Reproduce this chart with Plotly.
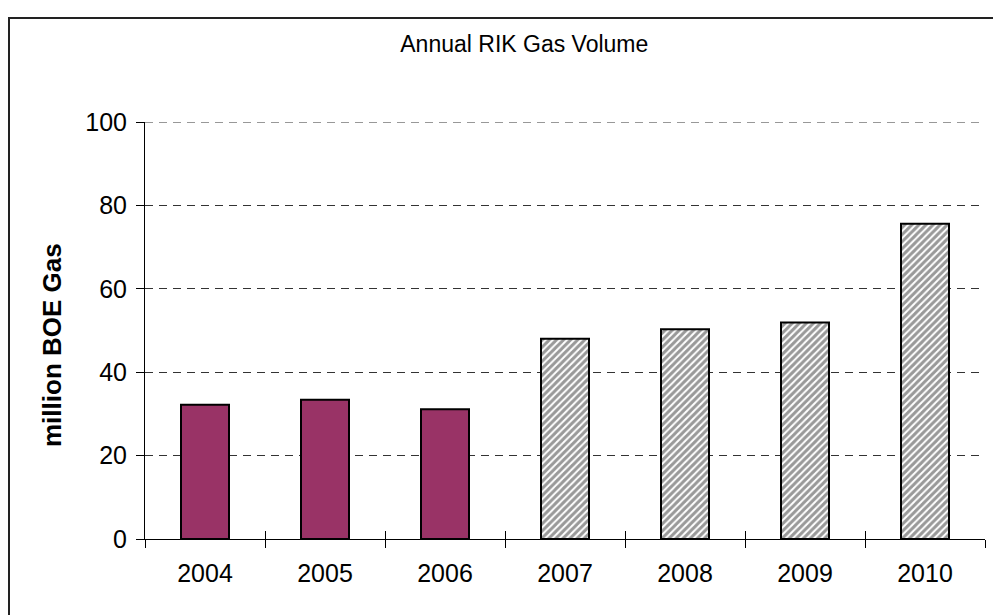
import plotly.graph_objects as go

# Annual royalty-in-kind gas volumes (million BOE)
actual_years = ["2004", "2005", "2006"]
actual_volumes = [32.2, 33.4, 31.1]
projected_years = ["2007", "2008", "2009", "2010"]
projected_volumes = [48.0, 50.3, 51.9, 75.6]
all_years = actual_years + projected_years
y_ticks = [0, 20, 40, 60, 80, 100]

FONT = "Liberation Sans, Arial, sans-serif"
GRID = dict(color="#333333", width=1, dash="8px,6px")

fig = go.Figure()

fig.add_trace(go.Bar(
    x=actual_years, y=actual_volumes, name="Actual",
    marker=dict(color="#993366", line=dict(color="black", width=2)),
))
fig.add_trace(go.Bar(
    x=projected_years, y=projected_volumes, name="Projected",
    marker=dict(
        color="white",
        line=dict(color="black", width=2),
        pattern=dict(shape="/", fgcolor="#333333", bgcolor="white",
                     size=5, solidity=0.6),
    ),
))

# linear twin of the category axis, used for the upward half of the cross ticks
n = len(all_years)
boundaries = [i - 0.5 for i in range(n + 1)]

fig.update_layout(
    width=993, height=615,
    margin=dict(l=145, r=8, t=122, b=76),
    paper_bgcolor="white", plot_bgcolor="white",
    barmode="overlay", bargap=0.6,
    showlegend=False,
    font=dict(family=FONT, color="black"),
    title=dict(text="Annual RIK Gas Volume", font=dict(size=23, color="black"),
               x=0.528, xref="container", xanchor="center",
               y=1 - 44 / 615, yref="container", yanchor="middle"),
    xaxis=dict(
        type="category", categoryorder="array", categoryarray=all_years,
        range=[-0.5, n - 0.5],
        showline=True, linecolor="black", linewidth=1,
        ticks="outside", ticklen=8, tickcolor="black", tickwidth=1,
        tickson="boundaries", showgrid=False,
        tickfont=dict(size=25), ticklabelstandoff=12,
    ),
    xaxis2=dict(
        overlaying="x", range=[-0.5, n - 0.5], anchor="y",
        tickvals=boundaries, ticks="inside", ticklen=8,
        tickcolor="black", tickwidth=1,
        showticklabels=False, showgrid=False, showline=False,
        zeroline=False, side="bottom",
    ),
    yaxis=dict(
        range=[y_ticks[0], y_ticks[-1]], tickvals=y_ticks,
        showline=True, linecolor="black", linewidth=1,
        ticks="outside", ticklen=8, tickcolor="black", tickwidth=1,
        showgrid=True, gridcolor=GRID["color"], gridwidth=GRID["width"],
        griddash=GRID["dash"],
        zeroline=False,
        tickfont=dict(size=25), ticklabelstandoff=4,
    ),
)

# empty trace so the twin axis is drawn
fig.add_trace(go.Scatter(x=[None], y=[None], xaxis="x2", showlegend=False,
                         hoverinfo="skip"))

# gridline on the top edge of the value axis
fig.add_shape(type="line", xref="paper", yref="y", x0=0, x1=1,
              y0=y_ticks[-1], y1=y_ticks[-1], line=GRID, layer="below")

# value-axis title
fig.add_annotation(text="<b>million BOE Gas</b>", textangle=-90,
                   xref="paper", yref="paper",
                   x=(52 - 145) / 840, y=(539 - 345) / 417,
                   xanchor="center", yanchor="middle", showarrow=False,
                   font=dict(size=26, color="black"))

# chart area frame
fig.add_shape(type="rect", xref="paper", yref="paper",
              x0=(9 - 145) / 840, x1=1.2, y0=-0.4, y1=(539 - 18) / 417,
              line=dict(color="#222222", width=2), fillcolor="rgba(0,0,0,0)",
              layer="below")

fig.write_html("out.html")
